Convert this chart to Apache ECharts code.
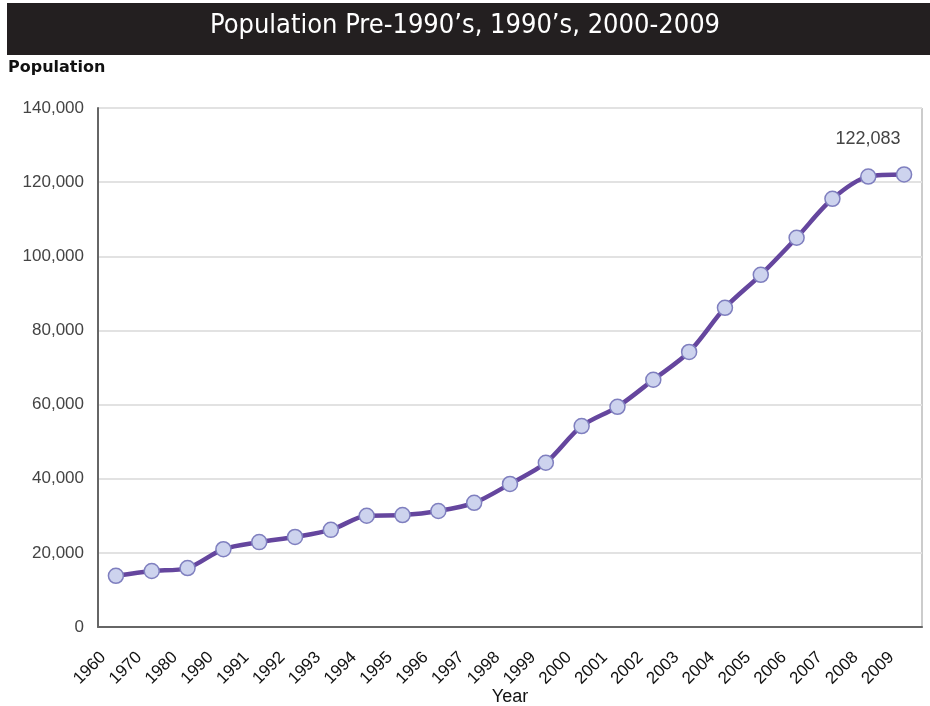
<!DOCTYPE html>
<html>
<head>
<meta charset="utf-8">
<script src="https://cdn.jsdelivr.net/npm/echarts@6/dist/echarts.min.js"></script>
<style>
html, body { margin: 0; padding: 0; background: #fff; }
#main { width: 930px; height: 706px; }
</style>
</head>
<body>
<div id="main"></div>
<script>
// data
var years = ['1960', '1970', '1980', '1990', '1991', '1992', '1993', '1994', '1995', '1996', '1997',
    '1998', '1999', '2000', '2001', '2002', '2003', '2004', '2005', '2006', '2007', '2008', '2009'];
var population = [13800, 15100, 15900, 21000, 22900, 24300, 26200, 30000, 30200, 31300, 33500,
    38600, 44300, 54200, 59400, 66700, 74200, 86100, 95000, 105000, 115500, 121500, 122083];
var yTicks = [0, 20000, 40000, 60000, 80000, 100000, 120000, 140000];

var myChart = echarts.init(document.getElementById('main'));

var option = {
    backgroundColor: '#fff',
    animation: false,
    graphic: [
        {
            type: 'rect',
            shape: { x: 7, y: 3, width: 923, height: 52 },
            style: { fill: '#231f20' }
        },
        {
            type: 'text',
            left: 'center',
            top: 12,
            style: {
                text: 'Population Pre-1990\u2019s, 1990\u2019s, 2000-2009',
                fill: '#fff',
                font: '27px "DejaVu Sans Condensed", "Liberation Sans Narrow", sans-serif'
            }
        },
        {
            type: 'text',
            left: 8,
            top: 60,
            style: {
                text: 'Population',
                fill: '#111',
                font: 'bold 16px "DejaVu Sans", sans-serif'
            }
        },
        {
            // x axis title
            type: 'text',
            x: 510,
            y: 697,
            style: {
                text: 'Year',
                fill: '#111',
                align: 'center',
                verticalAlign: 'middle',
                font: '18px "Liberation Sans", Arial, sans-serif'
            }
        },
        {
            // right border of the plot
            type: 'line',
            shape: { x1: 922, y1: 108, x2: 922, y2: 628 },
            style: { stroke: '#bbb', lineWidth: 1.5 }
        }
    ],
    grid: {
        left: 98,
        right: 8,
        top: 108,
        bottom: 79,
        outerBoundsMode: 'none'
    },
    xAxis: {
        type: 'category',
        data: years,
        boundaryGap: true,
        axisLine: { lineStyle: { color: '#666', width: 2 } },
        axisTick: { show: false },
        axisLabel: {
            rotate: 45,
            interval: 0,
            color: '#111',
            fontSize: 17,
            fontFamily: 'Liberation Sans',
            margin: 15,
            padding: [0, 18, 0, 0]
        }
    },
    yAxis: {
        type: 'value',
        min: 0,
        max: 140000,
        interval: 20000,
        axisLine: { show: true, lineStyle: { color: '#666', width: 2 } },
        axisTick: { show: false },
        splitLine: { lineStyle: { color: '#e2e2e2', width: 2 } },
        axisLabel: {
            color: '#444',
            fontSize: 17,
            fontFamily: 'Liberation Sans',
            margin: 14,
            formatter: function (v) {
                return yTicks.indexOf(v) >= 0 ? v.toLocaleString('en-US') : '';
            }
        }
    },
    series: [{
        type: 'line',
        data: population,
        smooth: 0.3,
        symbol: 'circle',
        symbolSize: 15,
        lineStyle: { color: '#65469e', width: 4.5 },
        itemStyle: { color: '#cdd3ee', borderColor: '#7f7fbf', borderWidth: 1.5 },
        label: {
            show: true,
            position: 'top',
            distance: 18,
            offset: [-36, 0],
            color: '#444',
            fontSize: 18,
            fontFamily: 'Liberation Sans',
            formatter: function (p) {
                return p.dataIndex === population.length - 1 ? p.value.toLocaleString('en-US') : '';
            }
        }
    }]
};

myChart.setOption(option);
</script>
</body>
</html>
